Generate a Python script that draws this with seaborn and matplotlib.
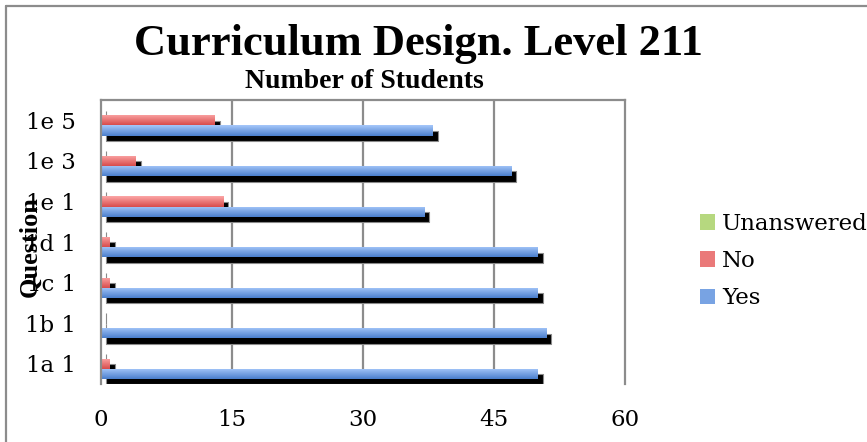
import numpy as np
import pandas as pd
import matplotlib
matplotlib.use("Agg")
import matplotlib.pyplot as plt
import matplotlib.transforms as mtransforms
from matplotlib.colors import LinearSegmentedColormap
from matplotlib.patches import Patch
from matplotlib.lines import Line2D
import seaborn as sns

# Survey answers per question (number of students)
questions = ["1e 5", "1e 3", "1e 1", "1d 1", "1c 1", "1b 1", "1a 1"]
yes = [38, 47, 37, 50, 50, 51, 50]
no = [13, 4, 14, 1, 1, 0, 1]
unanswered = [0, 0, 0, 0, 0, 0, 0]
series = ["Unanswered", "No", "Yes"]
x_ticks = [0, 15, 30, 45, 60]

df = pd.DataFrame({
    "Question": questions * 3,
    "Response": ["Unanswered"] * 7 + ["No"] * 7 + ["Yes"] * 7,
    "Students": unanswered + no + yes,
})

# top / bottom colours of each bar's vertical gradient
grad = {
    "Unanswered": ("#d4eeaa", "#98c255"),
    "No": ("#fca6a6", "#d84c4c"),
    "Yes": ("#a6c8fa", "#4a7ecd"),
}
mid = {k: sns.blend_palette(list(v), 3)[1] for k, v in grad.items()}

sns.set_style("white")
plt.rcParams["text.color"] = "black"
plt.rcParams["xtick.color"] = "black"
plt.rcParams["ytick.color"] = "black"
label_font = "DejaVu Serif"
title_font = "Liberation Serif"

fig = plt.figure(figsize=(8.67, 4.42), dpi=100)
ax = fig.add_axes([101 / 867, 1 - 384 / 442, 524 / 867, 284 / 442])

# drop shadows: black copies of the bars shifted right and down
sns.barplot(data=df, y="Question", x="Students", hue="Response",
            hue_order=series, order=questions, orient="h", width=0.75,
            palette={s: "black" for s in series}, saturation=1,
            edgecolor="#8a8a8a", linewidth=0.8, legend=False, ax=ax)
shift = mtransforms.ScaledTranslation(5 / 100, -5.5 / 100, fig.dpi_scale_trans)
n_shadow = len(ax.patches)
for p in ax.patches:
    p.set_transform(ax.transData + shift)

sns.barplot(data=df, y="Question", x="Students", hue="Response",
            hue_order=series, order=questions, orient="h", width=0.75,
            palette=mid, saturation=1, linewidth=0, legend=False, ax=ax)

# vertical gradient fill for every coloured bar
bars = ax.patches[n_shadow:]
ramp = np.linspace(0, 1, 64).reshape(-1, 1)
for i, p in enumerate(bars):
    w = p.get_width()
    if w <= 0:
        continue
    name = series[i // len(questions)]
    cmap = LinearSegmentedColormap.from_list(name, list(grad[name]))
    x0, y0, h = p.get_x(), p.get_y(), p.get_height()
    im = ax.imshow(ramp, cmap=cmap, aspect="auto", origin="upper",
                   extent=(x0, x0 + w, y0 + h, y0), zorder=p.get_zorder() + 0.1,
                   interpolation="bilinear")
    im.set_clip_path(p)

ax.set_xlim(0, 60)
ax.set_ylim(len(questions) - 0.5, -0.5)
ax.set_xticks(x_ticks)
ax.set_xticklabels([str(t) for t in x_ticks])
for t in x_ticks[1:-1]:
    ax.axvline(t, color="#8c8c8c", lw=1.6, zorder=0.5)

for side in ["left", "top", "right"]:
    ax.spines[side].set_visible(True)
    ax.spines[side].set_color("#8c8c8c")
    ax.spines[side].set_linewidth(1.6)
ax.spines["bottom"].set_visible(False)

ax.tick_params(axis="both", length=0, labelsize=16.5, labelcolor="black")
ax.tick_params(axis="x", pad=18)
ax.tick_params(axis="y", pad=18)
for lab in ax.get_xticklabels() + ax.get_yticklabels():
    lab.set_fontfamily(label_font)
ax.set_xlabel("")
ax.set_ylabel("")

fig.text(418 / 867, 1 - 44 / 442, "Curriculum Design. Level 211",
         ha="center", va="center", fontsize=32, fontweight="bold",
         family=title_font, color="black")
fig.text(364 / 867, 1 - 81 / 442, "Number of Students",
         ha="center", va="center", fontsize=20, fontweight="bold",
         family=title_font, color="black")
fig.text(30 / 867, 1 - 247 / 442, "Question", rotation=90,
         ha="center", va="center", fontsize=19, fontweight="bold",
         family=title_font, color="black")

handles = [Patch(facecolor=mid[s], edgecolor="none") for s in series]
fig.legend(handles, series, loc="upper left",
           bbox_to_anchor=(700 / 867, 1 - 213 / 442), frameon=False,
           prop={"family": label_font, "size": 16.5},
           handlelength=0.65, handleheight=0.65, handletextpad=0.3,
           labelspacing=0.66, borderaxespad=0, borderpad=0)

# outer chart border (left and top edges)
fig.add_artist(Line2D([6 / 867, 6 / 867], [0, 1 - 6 / 442],
                      transform=fig.transFigure, color="#8c8c8c", lw=1.6))
fig.add_artist(Line2D([6 / 867, 1], [1 - 6 / 442, 1 - 6 / 442],
                      transform=fig.transFigure, color="#8c8c8c", lw=1.6))

fig.savefig("out.png", dpi=100)
